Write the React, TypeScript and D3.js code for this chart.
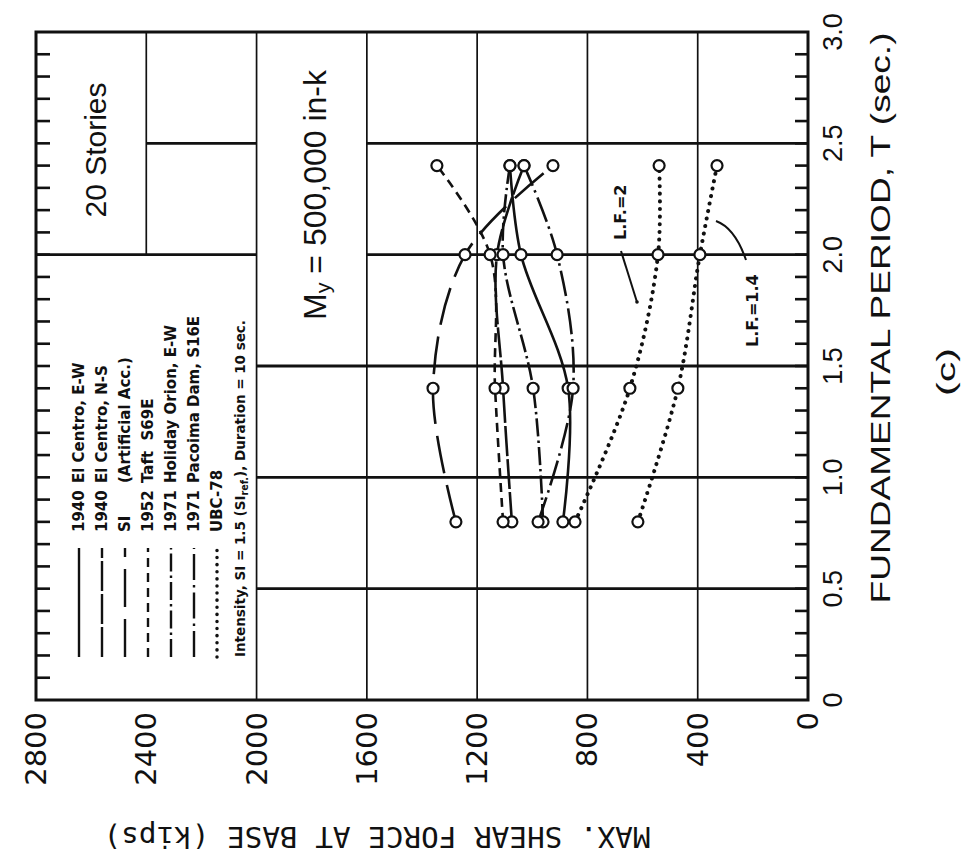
import React from 'react';
import * as d3 from 'd3';

// ---- data ----
const periods = [0.8, 1.4, 2.0, 2.4];
const elCentroEW = [889, 870, 1041, 1081];
const elCentroNS = [1074, 1106, 1128, 1030];
const siArtificial = [1277, 1360, 1244, 925];
const taftS69E = [1106, 1135, 1153, 1346];
const holidayOrion = [961, 997, 1106, 1081];
const pacoimaDam = [979, 852, 910, 1030];
const ubcLF2 = [845, 646, 544, 540];
const ubcLF14 = [617, 472, 392, 330];

const forceTicks = [0, 400, 800, 1200, 1600, 2000, 2400, 2800];
const periodTicks = [0, 0.5, 1.0, 1.5, 2.0, 2.5, 3.0];
const periodTickLabels = ['0', '0.5', '1.0', '1.5', '2.0', '2.5', '3.0'];

const legendYears = ['1940', '1940', 'SI', '1952', '1971', '1971', 'UBC-78'];
const legendNames = ['El Centro, E-W', 'El Centro, N-S', '(Artificial Acc.)', 'Taft  S69E', 'Holiday Orion, E-W', 'Pacoima Dam, S16E', ''];

const recordSeries = [
  { values: elCentroEW, dash: 'none' },
  { values: elCentroNS, dash: '30,3' },
  { values: siArtificial, dash: '38,12' },
  { values: taftS69E, dash: '9,6' },
  { values: holidayOrion, dash: '18,4,2.5,4' },
  { values: pacoimaDam, dash: '26,5,2.5,5' },
];
const ubcSeries = [ubcLF2, ubcLF14];

const INK = '#111';

function RText(props: any) {
  const { x, y, rot = -90, anchor = 'middle', size = 14, family = 'Liberation Sans, Arial, sans-serif', weight = 'normal', textLength, adjust = 'spacingAndGlyphs', children, baseline = 'central' } = props;
  return (
    <text
      x={x}
      y={y}
      transform={`rotate(${rot},${x},${y})`}
      textAnchor={anchor}
      dominantBaseline={baseline}
      fontSize={size}
      fontFamily={family}
      fontWeight={weight}
      fill={INK}
      textLength={textLength}
      lengthAdjust={textLength ? adjust : undefined}
      style={{ whiteSpace: 'pre' }}
    >
      {children}
    </text>
  );
}

export default function App() {
  const W = 967, H = 855;
  const xF = d3.scaleLinear().domain([0, 2800]).range([808, 36]);
  const yT = d3.scaleLinear().domain([0, 3]).range([700, 32]);

  const toPts = (vals: number[]) => periods.map((t, i) => [t, vals[i]] as [number, number]);
  const lineGen = d3
    .line<[number, number]>()
    .x((d) => xF(d[1]))
    .y((d) => yT(d[0]))
    .curve(d3.curveCatmullRom.alpha(0.5));

  // grid segments (force-constant verticals, period-constant horizontals)
  const vLines: { f: number; t0: number; t1: number }[] = [
    { f: 2400, t0: 2.0, t1: 3.0 },
    { f: 2000, t0: 0, t1: 3.0 },
    { f: 1600, t0: 0, t1: 3.0 },
    { f: 1200, t0: 0, t1: 3.0 },
    { f: 800, t0: 0, t1: 3.0 },
    { f: 400, t0: 0, t1: 3.0 },
  ];
  const hLines: { t: number; segs: [number, number][] }[] = [
    { t: 2.5, segs: [[2400, 2000], [1600, 0]] },
    { t: 2.0, segs: [[2800, 2000], [1600, 0]] },
    { t: 1.5, segs: [[2000, 0]] },
    { t: 1.0, segs: [[2000, 0]] },
    { t: 0.5, segs: [[2000, 0]] },
  ];
  const minorT = d3.range(1, 30).map((i) => i / 10);

  const legendX = (i: number) => 79 + i * 23;

  return (
    <svg width={W} height={H} style={{ position: 'absolute', left: 0, top: 0, background: '#fff' }}>
      <rect x={0} y={0} width={W} height={H} fill="#fff" />
      {/* grid */}
      {vLines.map((v, i) => (
        <line key={'v' + i} x1={xF(v.f)} x2={xF(v.f)} y1={yT(v.t0)} y2={yT(v.t1)} stroke={INK} strokeWidth={1.7} />
      ))}
      {hLines.map((h, i) =>
        h.segs.map((s, j) => (
          <line key={'h' + i + '-' + j} x1={xF(s[0])} x2={xF(s[1])} y1={yT(h.t)} y2={yT(h.t)} stroke={INK} strokeWidth={2.8} />
        ))
      )}
      {/* minor ticks on period axis edges */}
      {minorT.map((t, i) => (
        <g key={'mt' + i}>
          <line x1={xF(2800)} x2={xF(2800) + 14} y1={yT(t)} y2={yT(t)} stroke={INK} strokeWidth={2.6} />
          <line x1={xF(0)} x2={xF(0) - 13} y1={yT(t)} y2={yT(t)} stroke={INK} strokeWidth={2.6} />
        </g>
      ))}
      {/* frame */}
      <rect x={xF(2800)} y={yT(3)} width={xF(0) - xF(2800)} height={yT(0) - yT(3)} fill="none" stroke={INK} strokeWidth={3} />

      {/* record curves */}
      {recordSeries.map((s, i) => (
        <path key={'s' + i} d={lineGen(toPts(s.values)) || ''} fill="none" stroke={INK} strokeWidth={2.6} strokeDasharray={s.dash === 'none' ? undefined : s.dash} />
      ))}
      {/* UBC-78 dotted curves */}
      {ubcSeries.map((s, i) => (
        <path key={'u' + i} d={lineGen(toPts(s)) || ''} fill="none" stroke={INK} strokeWidth={4} strokeDasharray="0.1,7.5" strokeLinecap="round" />
      ))}
      {/* markers */}
      {[...recordSeries.map((s) => s.values), ...ubcSeries].map((vals, i) =>
        toPts(vals).map((p, j) => (
          <circle key={'c' + i + '-' + j} cx={xF(p[1])} cy={yT(p[0])} r={5.5} fill="#fff" stroke={INK} strokeWidth={2.2} />
        ))
      )}

      {/* force tick labels */}
      {forceTicks.map((f) => (
        <RText key={'fl' + f} x={xF(f)} y={712} anchor="end" size={29} family="DejaVu Sans, sans-serif">
          {String(f)}
        </RText>
      ))}
      {/* period tick labels */}
      {periodTicks.map((t, i) => (
        <RText key={'tl' + i} x={833} y={yT(t)} size={27}>
          {periodTickLabels[i]}
        </RText>
      ))}

      {/* axis titles */}
      <RText x={880} y={318} size={28} textLength={571}>
        FUNDAMENTAL PERIOD, T (sec.)
      </RText>
      <RText x={377} y={836} rot={180} size={28} family="DejaVu Sans Mono, monospace" textLength={547}>
        MAX. SHEAR FORCE AT BASE (kips)
      </RText>
      <RText x={946} y={372} size={25} textLength={48}>
        (c)
      </RText>

      {/* annotations */}
      <RText x={95} y={150} size={30}>
        20 Stories
      </RText>
      <text
        x={315}
        y={195}
        transform={`rotate(-90,315,195)`}
        textAnchor="middle"
        dominantBaseline="central"
        fontSize={31}
        fontFamily="Liberation Sans, Arial, sans-serif"
        fill={INK}
        textLength={250}
        lengthAdjust="spacingAndGlyphs"
      >
        M<tspan fontSize={21} dy={7}>y</tspan>
        <tspan dy={-7}> = 500,000 in-k</tspan>
      </text>

      <RText x={620} y={240} anchor="start" size={16} weight="bold" family="DejaVu Sans, sans-serif">
        L.F.=2
      </RText>
      <line x1={621} y1={251} x2={637} y2={302} stroke={INK} strokeWidth={2} />
      <circle cx={637} cy={302} r={1.8} fill={INK} />
      <RText x={752} y={347} anchor="start" size={16} weight="bold" family="DejaVu Sans, sans-serif">
        L.F.=1.4
      </RText>
      <path d="M716,221 Q735,228 746,260" fill="none" stroke={INK} strokeWidth={2} />

      {/* legend */}
      {legendYears.map((yr, i) => {
        const x = legendX(i);
        const isUbc = i === 6;
        const dash = isUbc ? '0.1,7' : recordSeries[i].dash;
        return (
          <g key={'lg' + i}>
            <line x1={x} x2={x} y1={657} y2={548} stroke={INK} strokeWidth={isUbc ? 3.5 : 2.4} strokeLinecap={isUbc ? 'round' : 'butt'} strokeDasharray={dash === 'none' ? undefined : dash} />
            <RText x={x} y={532} anchor="start" size={15} weight="bold" family="DejaVu Sans, sans-serif">
              {yr}
            </RText>
            {legendNames[i] ? (
              <RText x={x} y={483} anchor="start" size={15} weight="bold" family="DejaVu Sans, sans-serif">
                {legendNames[i]}
              </RText>
            ) : null}
          </g>
        );
      })}
      <text
        x={legendX(7)}
        y={657}
        transform={`rotate(-90,${legendX(7)},657)`}
        textAnchor="start"
        dominantBaseline="central"
        fontSize={14}
        fontWeight="bold"
        fontFamily="DejaVu Sans, sans-serif"
        fill={INK}
        textLength={337}
        lengthAdjust="spacingAndGlyphs"
      >
        Intensity, SI = 1.5 (SI<tspan fontSize={10} dy={4}>ref.</tspan>
        <tspan dy={-4}>), Duration = 10 sec.</tspan>
      </text>
    </svg>
  );
}
